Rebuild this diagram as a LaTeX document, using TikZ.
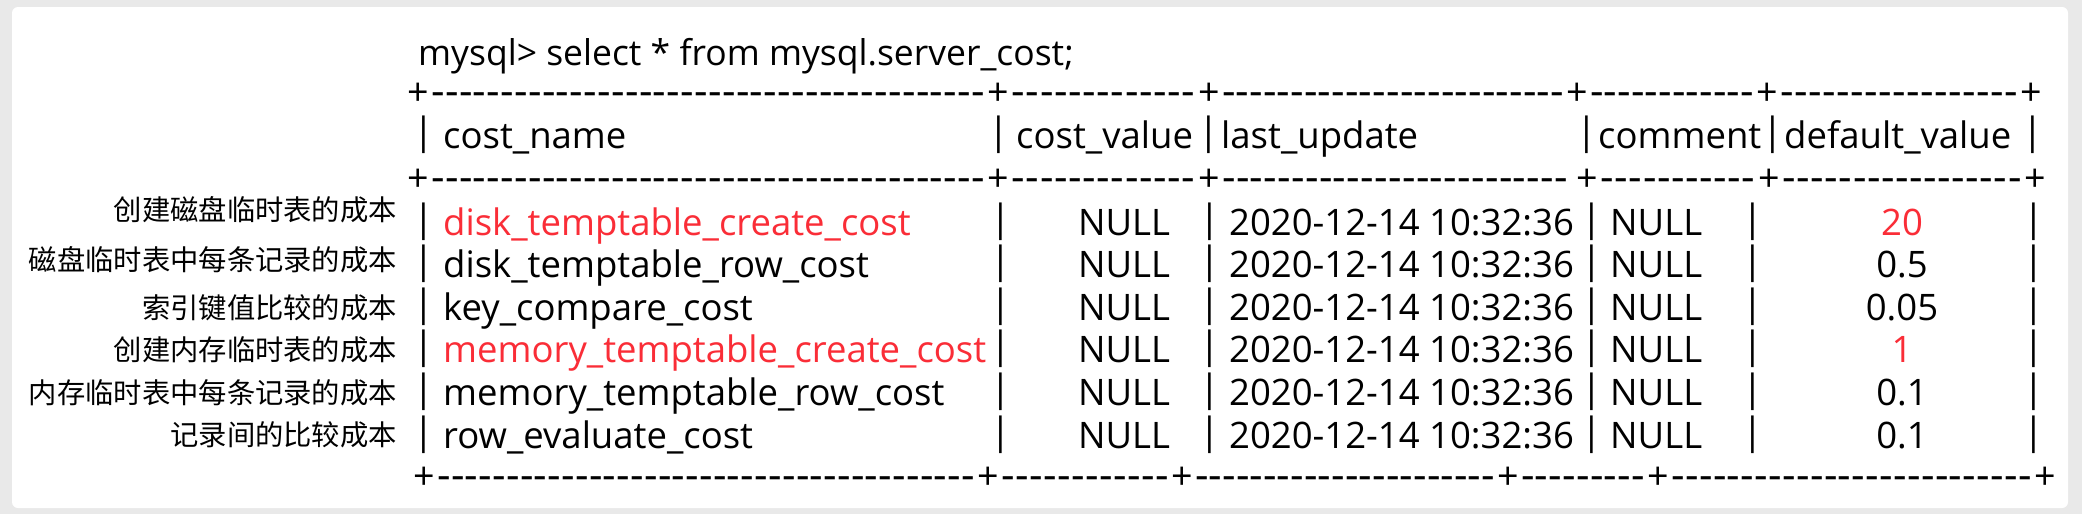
\documentclass[tikz,border=0pt]{standalone}
\usepackage{fontspec}
\usepackage{xcolor}
\setmainfont{Open Sans}
\newfontfamily\cjk{Noto Sans CJK SC}
\definecolor{hotred}{RGB}{250,45,55}
\definecolor{framegray}{RGB}{233,233,233}
\newcommand\tabfont{\fontsize{36.5}{43}\selectfont}
\newcommand\barfont{\fontsize{37.6}{44}\selectfont}
\newcommand\lblfont{\cjk\fontsize{28.3}{34}\selectfont}
\newcommand\dashrun[1]{\pgfmathsetlengthmacro\dw{#1}\hbox to \dw{\xleaders\hbox{-}\hfill}}

\begin{document}
\begin{tikzpicture}[x=1pt, y=-1pt,
  txt/.style={anchor=base west, inner sep=0pt, font=\tabfont},
  val/.style={anchor=base, inner sep=0pt, font=\tabfont},
  bar/.style={anchor=base, inner sep=0pt, font=\barfont, yshift=4pt},
  plus/.style={anchor=base, inner sep=0pt, font=\barfont},
  dashes/.style={anchor=base, inner sep=0pt, font=\fontsize{42}{46}\selectfont},
  lbl/.style={anchor=base east, inner sep=0pt, font=\lblfont}]

\useasboundingbox (0,0) rectangle (2082,514);
\fill[framegray] (0,0) rectangle (2082,514);
\fill[white, rounded corners=6] (12,7) rectangle (2068,508);

\node[txt, font=\fontsize{35.5}{42}\selectfont] (query) at (418,65) {mysql> select * from mysql.server\_cost;};

% separator lines
\foreach \px in {418,998,1209,1577,1767,2031} \node[plus] (top-\px) at (\px,105) {+};
\foreach \a/\b in {431/985,1011/1196,1222/1564,1590/1754,1780/2018}
  \node[dashes] (topd-\a) at ({(\a+\b)/2},105) {\dashrun{\b-\a}};
\foreach \px in {418,998,1209,1587,1769,2035} \node[plus] (mid-\px) at (\px,191) {+};
\foreach \a/\b in {431/985,1011/1196,1222/1568,1600/1756,1782/2022}
  \node[dashes] (midd-\a) at ({(\a+\b)/2},191) {\dashrun{\b-\a}};
\foreach \px in {424,988,1182,1508,1658,2045} \node[plus] (bot-\px) at (\px,489) {+};
\foreach \a/\b in {437/975,1001/1169,1195/1495,1521/1645,1671/2032}
  \node[dashes] (botd-\a) at ({(\a+\b)/2},489) {\dashrun{\b-\a}};

% header
\node[bar] (h0) at (424,148) {|};
\node[txt] (hname) at (443,148) {cost\_name};
\node[bar] (h1) at (999,148) {|};
\node[txt] (hval) at (1016,148) {cost\_value};
\node[bar] (h2) at (1209,148) {|};
\node[txt] (hupd) at (1221,148) {last\_update};
\node[bar] (h3) at (1587,148) {|};
\node[txt] (hcom) at (1598,148) {comment};
\node[bar] (h4) at (1773,148) {|};
\node[txt] (hdef) at (1784,148) {default\_value};
\node[bar] (h5) at (2033,148) {|};

% rows
\foreach \y/\ly/\lb/\nm/\dv/\c [count=\i] in {
  235/220/创建磁盘临时表的成本/disk\_temptable\_create\_cost/20/hotred,
  277.6/270/磁盘临时表中每条记录的成本/disk\_temptable\_row\_cost/0.5/black,
  320.2/318/索引键值比较的成本/key\_compare\_cost/0.05/black,
  362.8/360/创建内存临时表的成本/memory\_temptable\_create\_cost/1/hotred,
  405.4/403/内存临时表中每条记录的成本/memory\_temptable\_row\_cost/0.1/black,
  448/445/记录间的比较成本/row\_evaluate\_cost/0.1/black}{
  \node[lbl] (note\i) at (397,\ly) {\lb};
  \node[txt, text=\c] (name\i) at (443,\y) {\nm};
  \node[val] (cv\i) at (1124,\y) {NULL};
  \node[txt] (upd\i) at (1229,\y) {2020-12-14 10:32:36};
  \node[txt] (com\i) at (1610,\y) {NULL};
  \node[val, text=\c] (dv\i) at (1902,\y) {\dv};
  \foreach \bx [count=\j] in {424,1001,1210,1592,1753,2034}
    \node[bar] (bar\i-\j) at (\bx,\y) {|};
}

\end{tikzpicture}
\end{document}
